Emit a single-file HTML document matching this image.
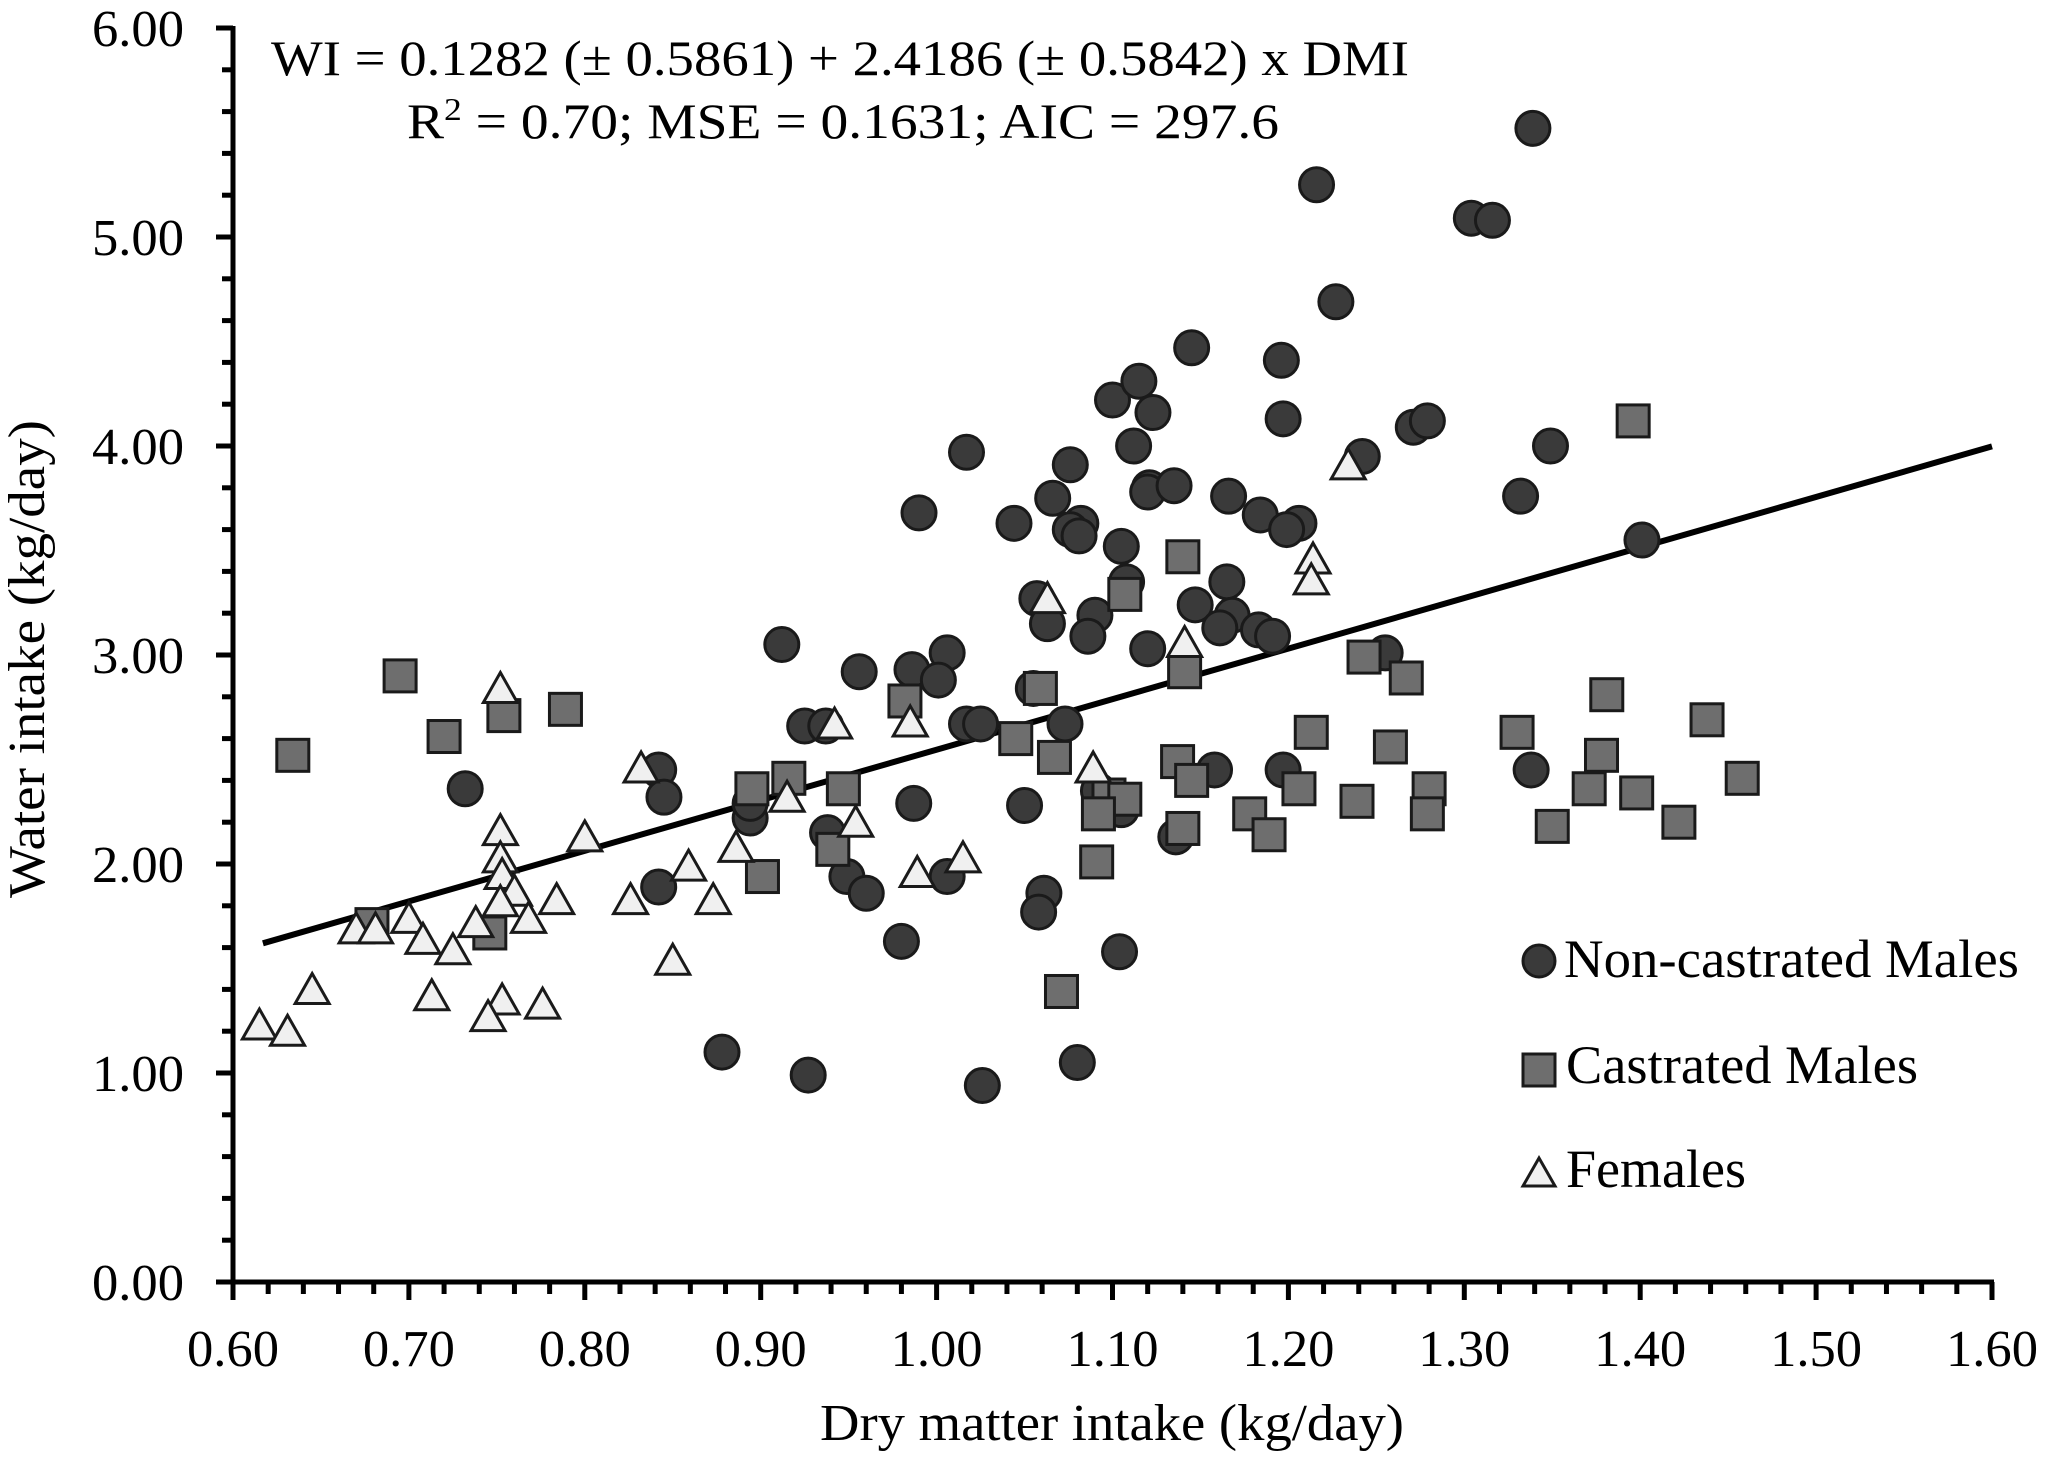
<!DOCTYPE html>
<html><head><meta charset="utf-8"><style>
html,body{margin:0;padding:0;background:#fff;}
svg{display:block;font-family:"Liberation Serif","Times New Roman",serif;}
</style></head><body>
<svg id="chart" width="2046" height="1462" viewBox="0 0 2046 1462" xmlns="http://www.w3.org/2000/svg">
<g id="ticks"></g>
<g id="line"></g>
<g id="marks"></g>
<g id="axes">
<line x1="231" y1="1282" x2="1994" y2="1282" stroke="#000" stroke-width="5"/>
<line x1="233" y1="26" x2="233" y2="1284" stroke="#000" stroke-width="5"/>
</g>
<text x="820" y="1440" font-size="52" textLength="584" lengthAdjust="spacingAndGlyphs">Dry matter intake (kg/day)</text>
<text transform="translate(44,898) rotate(-90)" font-size="52" textLength="478" lengthAdjust="spacingAndGlyphs">Water intake (kg/day)</text>
<text x="271" y="75" font-size="50" textLength="1138" lengthAdjust="spacingAndGlyphs">WI = 0.1282 (± 0.5861) + 2.4186 (± 0.5842) x DMI</text>
<text x="407" y="138" font-size="50" textLength="872" lengthAdjust="spacingAndGlyphs">R<tspan dy="-18" font-size="32">2</tspan><tspan dy="18"> = 0.70; MSE = 0.1631; AIC = 297.6</tspan></text>
<g>
<circle cx="1539" cy="961" r="16" fill="#3a3a3a" stroke="#1a1a1a" stroke-width="3"/>
<text x="1564" y="977" font-size="54" textLength="455" lengthAdjust="spacingAndGlyphs">Non-castrated Males</text>
<rect x="1523" y="1054" width="32" height="32" fill="#6e6e6e" stroke="#1a1a1a" stroke-width="3"/>
<text x="1566" y="1083" font-size="54" textLength="352" lengthAdjust="spacingAndGlyphs">Castrated Males</text>
<polygon points="1539,1158 1555,1186 1523,1186" fill="#f0f0f0" stroke="#1a1a1a" stroke-width="3"/>
<text x="1566" y="1187" font-size="54" textLength="180" lengthAdjust="spacingAndGlyphs">Females</text>
</g>
</svg>
<script>
const xTickLabels=["0.60","0.70","0.80","0.90","1.00","1.10","1.20","1.30","1.40","1.50","1.60"];
const yTickLabels=["0.00","1.00","2.00","3.00","4.00","5.00","6.00"];
const nonCastX=[1.339,1.216,1.304,1.316,1.227,1.145,1.196,1.100,1.115,1.123,1.197,1.271,1.279,1.017,1.112,1.242,1.349,1.076,1.332,1.121,1.120,1.135,1.166,1.066,0.990,1.044,1.082,1.184,1.206,1.199,1.076,1.081,1.105,1.401,1.057,1.108,1.165,1.147,1.063,1.168,1.090,1.161,1.183,1.191,1.086,1.120,0.912,1.006,1.255,0.956,0.986,1.001,1.055,0.925,0.937,1.017,1.025,1.073,0.842,0.845,0.732,0.894,0.894,0.987,1.050,1.092,1.102,1.105,1.158,1.197,1.338,1.136,0.938,0.949,0.960,1.006,0.842,1.061,1.058,0.980,1.104,0.878,0.927,1.026,1.080];
const nonCastY=[5.52,5.25,5.09,5.08,4.69,4.47,4.41,4.22,4.31,4.16,4.13,4.09,4.12,3.97,4.00,3.95,4.00,3.91,3.76,3.80,3.78,3.81,3.76,3.75,3.68,3.63,3.63,3.67,3.63,3.60,3.60,3.57,3.52,3.55,3.27,3.35,3.35,3.24,3.15,3.19,3.19,3.13,3.12,3.09,3.09,3.03,3.05,3.01,3.01,2.92,2.93,2.88,2.84,2.66,2.66,2.67,2.67,2.67,2.45,2.32,2.36,2.22,2.29,2.29,2.28,2.35,2.28,2.26,2.45,2.45,2.45,2.13,2.15,1.94,1.86,1.94,1.89,1.86,1.77,1.63,1.58,1.10,0.99,0.94,1.05];
const castX=[1.396,1.140,1.107,0.695,0.634,0.720,0.754,0.789,0.982,1.059,1.141,1.243,1.267,1.381,1.438,1.330,1.213,1.045,1.067,1.258,1.378,0.895,0.916,0.947,1.137,1.145,1.206,1.098,1.107,1.239,1.280,1.371,1.398,1.458,1.092,1.178,1.279,1.140,1.189,1.350,1.422,0.941,1.091,0.901,0.679,0.746,1.071];
const castY=[4.12,3.47,3.29,2.90,2.52,2.61,2.71,2.74,2.78,2.84,2.92,2.99,2.89,2.81,2.69,2.63,2.63,2.60,2.51,2.56,2.52,2.36,2.41,2.36,2.49,2.40,2.36,2.33,2.31,2.30,2.36,2.36,2.34,2.41,2.24,2.24,2.24,2.17,2.14,2.18,2.20,2.07,2.01,1.94,1.71,1.67,1.39];
const femX=[1.234,1.214,1.213,1.063,1.141,0.752,0.942,0.985,0.832,1.089,0.915,0.954,0.752,0.800,0.752,0.753,1.015,0.989,0.859,0.886,0.760,0.752,0.784,0.826,0.873,0.768,0.700,0.670,0.681,0.738,0.708,0.725,0.850,0.645,0.713,0.753,0.776,0.745,0.615,0.631];
const femY=[3.90,3.45,3.35,3.26,3.05,2.83,2.66,2.67,2.45,2.45,2.31,2.19,2.15,2.12,2.02,1.94,2.02,1.95,1.98,2.07,1.86,1.81,1.82,1.82,1.82,1.73,1.73,1.68,1.68,1.71,1.63,1.58,1.53,1.39,1.36,1.34,1.32,1.26,1.22,1.19];
const intercept=0.1282, slope=2.4186, lineStart=0.617, lineEnd=1.60;

const NS="http://www.w3.org/2000/svg";
const X=v=>233+(v-0.6)*1759;
const Y=v=>1282-v*209;
function mk(tag,attrs,parent){const e=document.createElementNS(NS,tag);for(const k in attrs)e.setAttribute(k,attrs[k]);parent.appendChild(e);return e;}
const ticks=document.getElementById('ticks');
for(let i=0;i<=50;i++){const v=0.6+i*0.02;const major=i%5===0;
 const t=mk('line',{x1:X(v),x2:X(v),y1:1282,y2:1282+(major?18:12),stroke:'#000','stroke-width':5},ticks);
 
 }
for(let i=0;i<=30;i++){const v=i*0.2;const major=i%5===0;
 const t=mk('line',{x1:233-(major?17:11),x2:233,y1:Y(v),y2:Y(v),stroke:'#000','stroke-width':5},ticks);
 
 }
xTickLabels.forEach(s=>{const v=parseFloat(s);
 const t=mk('text',{x:X(v)-46,y:1366,'font-size':52,textLength:92,lengthAdjust:'spacingAndGlyphs'},ticks);t.textContent=s;
 
 });
yTickLabels.forEach(s=>{const v=parseFloat(s);
 const t=mk('text',{x:92,y:Y(v)+18,'font-size':52,textLength:92,lengthAdjust:'spacingAndGlyphs'},ticks);t.textContent=s;
 
 });
const lg=document.getElementById('line');
const rl=mk('line',{x1:X(lineStart),y1:Y(intercept+slope*lineStart),x2:X(lineEnd),y2:Y(intercept+slope*lineEnd),stroke:'#000','stroke-width':6},lg);


const marks=document.getElementById('marks');
nonCastX.forEach((x,i)=>{const c=mk('circle',{cx:X(x),cy:Y(nonCastY[i]),r:17,fill:'#3a3a3a',stroke:'#1a1a1a','stroke-width':3},marks);
 
 });
castX.forEach((x,i)=>{const s=mk('rect',{x:X(x)-16,y:Y(castY[i])-16,width:32,height:32,fill:'#6e6e6e',stroke:'#1a1a1a','stroke-width':3},marks);
 
 });
femX.forEach((x,i)=>{const cx=X(x),cy=Y(femY[i]);
 const p=mk('polygon',{points:`${cx},${cy-18} ${cx+17},${cy+12} ${cx-17},${cy+12}`,fill:'#f0f0f0',stroke:'#1a1a1a','stroke-width':3},marks);
 
 });
</script>
</body></html>
